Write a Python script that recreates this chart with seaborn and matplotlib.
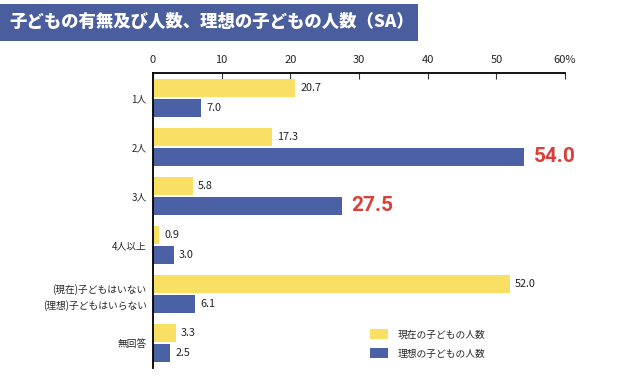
import matplotlib
matplotlib.use("Agg")
import matplotlib.pyplot as plt
from matplotlib.patches import Rectangle
import pandas as pd
import seaborn as sns

categories = ["1人", "2人", "3人", "4人以上",
              "(現在)子どもはいない\n(理想)子どもはいらない", "無回答"]
series = ["現在の子どもの人数", "理想の子どもの人数"]
current = [20.7, 17.3, 5.8, 0.9, 52.0, 3.3]
ideal = [7.0, 54.0, 27.5, 3.0, 6.1, 2.5]
xticks = [0, 10, 20, 30, 40, 50, 60]
xticklabels = ["0", "10", "20", "30", "40", "50", "60%"]
highlight = [(1, 1), (1, 2)]  # (series index, category index) shown big in red

df = pd.DataFrame({
    "category": categories * 2,
    "series": [series[0]] * len(categories) + [series[1]] * len(categories),
    "value": current + ideal,
})

sns.set_style("white")
plt.rcParams["font.family"] = ["Noto Sans CJK JP", "DejaVu Sans"]

fig = plt.figure(figsize=(6.3, 3.88), dpi=100)
ax = fig.add_axes([0.2429, 0.0528, 0.6540, 0.7578])

sns.barplot(data=df, x="value", y="category", hue="series", orient="h",
            palette=["#F9DF63", "#4A61A6"], saturation=1, width=0.8, gap=0.1,
            edgecolor="none", ax=ax)

# value labels
for si, cont in enumerate(ax.containers):
    vals = current if si == 0 else ideal
    for ci, bar in enumerate(cont):
        y = bar.get_y() + bar.get_height() / 2
        v = vals[ci]
        if (si, ci) in highlight:
            ax.annotate(f"{v:.1f}", (v, y), xytext=(7, 0), textcoords="offset points",
                        va="center", ha="left", fontsize=15, fontweight="bold",
                        color="#D9403A", family=["Roboto", "DejaVu Sans"])
        else:
            ax.annotate(f"{v:.1f}", (v, y), xytext=(3.6, 0), textcoords="offset points",
                        va="center", ha="left", fontsize=7.8, color="#222222")

ax.set_xlim(0, 60)
ax.xaxis.tick_top()
ax.set_xticks(xticks)
ax.set_xticklabels(xticklabels)
ax.tick_params(axis="x", direction="in", length=4, width=0.8, color="#333333",
               pad=6, labelsize=8, top=True, bottom=False)
ax.tick_params(axis="y", length=0, pad=4.5, labelsize=7)
ax.set_xlabel("")
ax.set_ylabel("")
ax.get_yticklabels()[4].set_linespacing(1.6)

for s in ["right", "bottom"]:
    ax.spines[s].set_visible(False)
for s in ["top", "left"]:
    ax.spines[s].set_color("black")
    ax.spines[s].set_linewidth(1.3)

ax.legend(loc="lower left", bbox_to_anchor=(0.527, 0.03), frameon=False,
          fontsize=7, handlelength=1.85, handleheight=1.2, handletextpad=1.0,
          labelspacing=0.9, borderpad=0, borderaxespad=0)

# title banner
fig.patches.append(Rectangle((0, 1 - 41 / 388), 418 / 630, 37 / 388,
                             transform=fig.transFigure, facecolor="#4A5E9E",
                             edgecolor="none", zorder=0))
fig.text(9 / 630, 1 - 22 / 388, "子どもの有無及び人数、理想の子どもの人数（SA）",
         color="white", fontsize=12.5, fontweight="black", va="center", ha="left")

fig.savefig("out.png", dpi=100)
